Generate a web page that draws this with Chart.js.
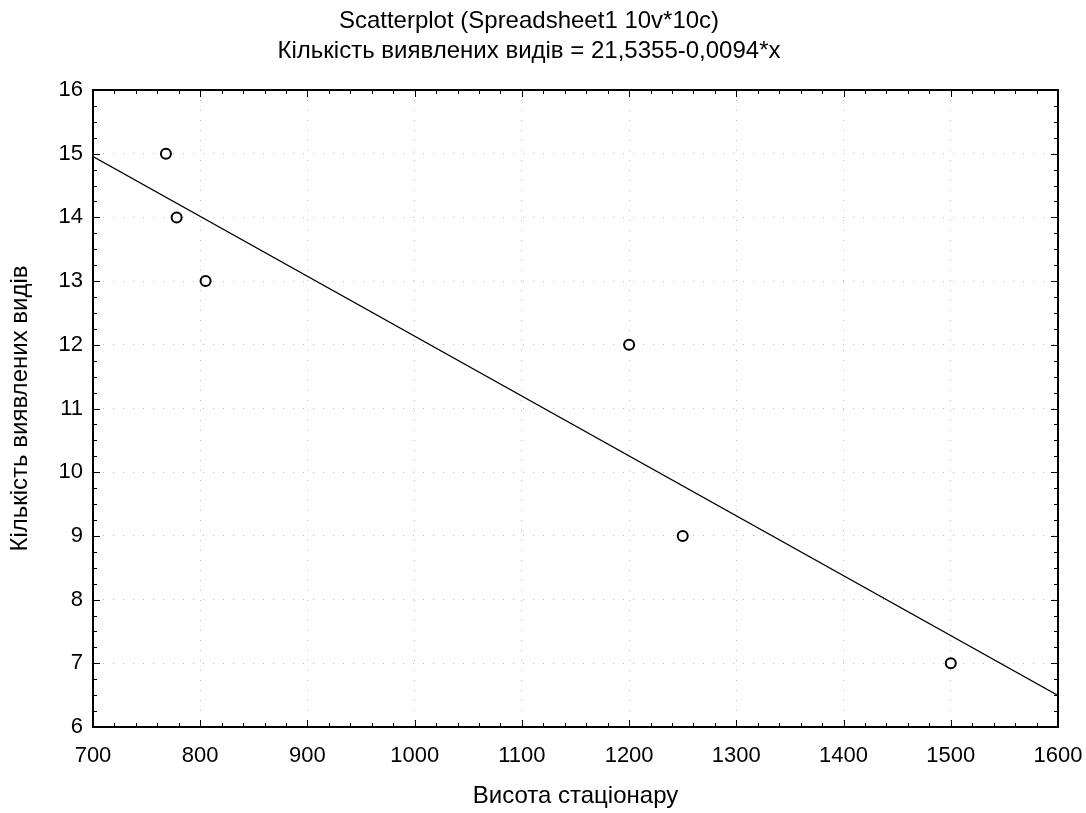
<!DOCTYPE html>
<html>
<head>
<meta charset="utf-8">
<script src="https://cdn.jsdelivr.net/npm/chart.js@4.4.1/dist/chart.umd.min.js"></script>
<style>
  html, body { margin: 0; padding: 0; background: #fff; }
  #wrap { width: 1086px; height: 813px; }
</style>
</head>
<body>
<div id="wrap"><canvas id="grafico"></canvas></div>
<script>
// valores
const altitude = [768, 778, 805, 1200, 1250, 1500];
const especies = [15, 14, 13, 12, 9, 7];
const retaX = [700, 1600];
const retaY = [14.955, 6.495];
const titulo = ['Scatterplot (Spreadsheet1 10v*10c)', 'Кількість виявлених видів = 21,5355-0,0094*x'];
const tituloX = 'Висота стаціонару';
const tituloY = 'Кількість виявлених видів';
const limitesX = [700, 1600];
const limitesY = [6, 16];

const fonte = "'Liberation Sans', Arial, sans-serif";

var pontos = [];
for (var i = 0; i < altitude.length; i++) {
    pontos.push({ x: altitude[i], y: especies[i] });
}
var reta = [];
for (var j = 0; j < retaX.length; j++) {
    reta.push({ x: retaX[j], y: retaY[j] });
}

// moldura e tracinhos para dentro em todos os lados
const moldura = {
    id: 'moldura',
    afterDraw(chart) {
        const ctx = chart.ctx;
        const a = chart.chartArea;
        const sx = chart.scales.x;
        const sy = chart.scales.y;
        ctx.save();
        ctx.strokeStyle = '#000';
        ctx.lineWidth = 1;
        ctx.beginPath();
        for (var v = limitesX[0]; v <= limitesX[1]; v += 20) {
            var px = Math.round(sx.getPixelForValue(v)) + 0.5;
            var len = (v % 100 === 0) ? 7 : 4;
            ctx.moveTo(px, a.bottom); ctx.lineTo(px, a.bottom - len);
            ctx.moveTo(px, a.top); ctx.lineTo(px, a.top + len);
        }
        for (var w = limitesY[0]; w <= limitesY[1]; w += 0.25) {
            var py = Math.round(sy.getPixelForValue(w)) + 0.5;
            var len2 = (w % 1 === 0) ? 7 : 4;
            ctx.moveTo(a.left, py); ctx.lineTo(a.left + len2, py);
            ctx.moveTo(a.right, py); ctx.lineTo(a.right - len2, py);
        }
        ctx.stroke();
        ctx.lineWidth = 2;
        ctx.strokeRect(a.left, a.top, a.right - a.left, a.bottom - a.top);
        ctx.restore();
    }
};

var configuracao = {
    type: 'scatter',
    data: {
        datasets: [{
            label: 'pontos',
            data: pontos,
            pointStyle: 'circle',
            pointRadius: 5,
            pointBorderWidth: 2,
            pointBackgroundColor: '#fff',
            pointBorderColor: '#000',
            order: 1
        }, {
            label: 'reta',
            data: reta,
            showLine: true,
            borderColor: '#000',
            borderWidth: 1.4,
            pointRadius: 0,
            order: 2
        }]
    },
    options: {
        responsive: true,
        maintainAspectRatio: false,
        animation: false,
        events: [],
        layout: { padding: { left: 0, right: 28, top: 0, bottom: 0 } },
        plugins: {
            legend: { display: false },
            tooltip: { enabled: false },
            title: {
                display: true,
                text: titulo,
                color: '#000',
                font: { family: fonte, size: 24, weight: 'normal', lineHeight: 1.25 },
                padding: { top: 6, bottom: 24 }
            }
        },
        scales: {
            x: {
                type: 'linear',
                min: limitesX[0],
                max: limitesX[1],
                afterFit: function (s) { s.height = 86; s.paddingLeft = 0; s.paddingRight = 0; },
                border: { display: false, dash: [1, 9] },
                grid: { color: 'rgba(0,0,0,0.28)', lineWidth: 1, drawTicks: false },
                ticks: {
                    stepSize: 100, color: '#000', padding: 16, font: { family: fonte, size: 22 },
                    callback: function (v) { return String(v); }
                },
                title: {
                    display: true, text: tituloX, color: '#000',
                    font: { family: fonte, size: 24 }, padding: { top: 0, bottom: 2 }
                }
            },
            y: {
                type: 'linear',
                min: limitesY[0],
                max: limitesY[1],
                afterFit: function (s) { s.width = 93; s.paddingTop = 0; s.paddingBottom = 0; },
                border: { display: false, dash: [1, 9] },
                grid: { color: 'rgba(0,0,0,0.28)', lineWidth: 1, drawTicks: false },
                ticks: {
                    stepSize: 1, color: '#000', padding: 10, font: { family: fonte, size: 22 },
                    callback: function (v) { return String(v); }
                },
                title: {
                    display: true, text: tituloY, color: '#000',
                    font: { family: fonte, size: 24 }, padding: { top: 6, bottom: 0 }
                }
            }
        }
    },
    plugins: [moldura]
};

var grafico = new Chart(document.getElementById('grafico'), configuracao);
</script>
</body>
</html>
